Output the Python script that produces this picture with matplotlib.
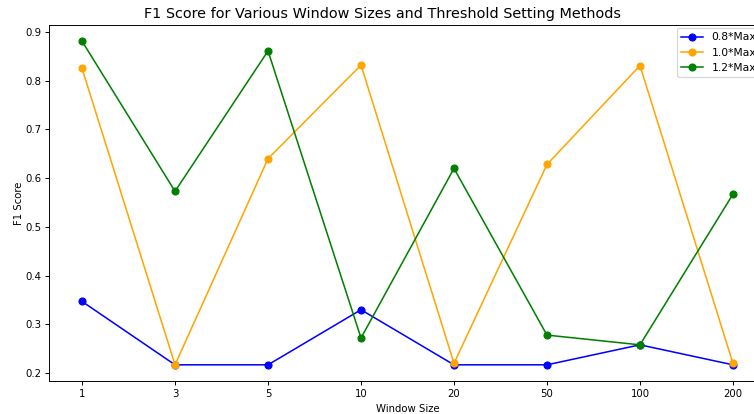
import matplotlib
matplotlib.use("Agg")
import matplotlib.pyplot as plt

# window sizes plotted as categories
window_sizes = ["1", "3", "5", "10", "20", "50", "100", "200"]

# F1 scores per threshold setting method
f1_08 = [0.347, 0.217, 0.217, 0.330, 0.217, 0.217, 0.258, 0.217]
f1_10 = [0.825, 0.217, 0.640, 0.832, 0.220, 0.628, 0.831, 0.220]
f1_12 = [0.881, 0.573, 0.861, 0.272, 0.620, 0.278, 0.258, 0.567]

labels = ["0.8*Max", "1.0*Max", "1.2*Max"]

# the original looks like a larger figure scaled down, so use a lower dpi
DPI = 86
plt.rcParams['font.size'] = 8.5
plt.rcParams['axes.titlesize'] = 12

fig = plt.figure(figsize=(754 / DPI, 414 / DPI), dpi=DPI)
# axes run past the right edge, like the cropped original
ax = fig.add_axes([49.5 / 754, 1 - 381 / 414, 716 / 754, (381 - 25) / 414])

x = range(len(window_sizes))
ax.plot(x, f1_08, marker='o', color='blue', label=labels[0], lw=1.3, ms=5.8)
ax.plot(x, f1_10, marker='o', color='orange', label=labels[1], lw=1.3, ms=5.8)
ax.plot(x, f1_12, marker='o', color='green', label=labels[2], lw=1.3, ms=5.8)

ax.set_xticks(list(x))
ax.set_xticklabels(window_sizes)
# title sits centred on the visible part of the original figure
ax.set_title("F1 Score for Various Window Sizes and Threshold Setting Methods",
             x=(383 - 49.5) / 716)
ax.set_xlabel("Window Size")
ax.set_ylabel("F1 Score", labelpad=1)
ax.legend(loc='upper left', bbox_to_anchor=(677 / 754, 1 - 28 / 414),
          bbox_transform=fig.transFigure, borderaxespad=0, fontsize=9)

fig.savefig("out.png", dpi=DPI)
